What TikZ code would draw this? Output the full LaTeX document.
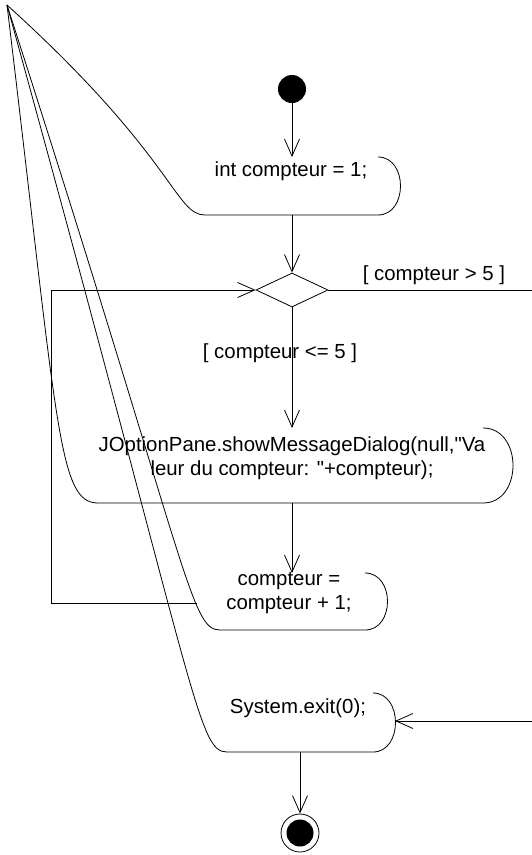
\documentclass[tikz,border=0pt]{standalone}
\usepackage{fontspec}
\newfontfamily\lsans{Liberation Sans}
\usetikzlibrary{arrows.meta,shapes.geometric}
\begin{document}
\begin{tikzpicture}[x=1pt,y=-1pt,
  line/.style={draw=black, line width=0.8pt},
  flow/.style={line, -{Straight Barb[length=17pt,width=15pt,line width=0.8pt]}},
  txt/.style={font=\lsans\fontsize{20.4}{24}\selectfont, align=center, inner sep=0pt}]
\useasboundingbox (0,0) rectangle (532,855);
\coordinate (O) at (7,5);

% initial and final states
\node[circle, fill=black, minimum size=28pt, inner sep=0pt] (start) at (292,89) {};
\node[circle, draw=black, line width=0.8pt, minimum size=38pt, inner sep=0pt] (end) at (300,833) {};
\node[circle, fill=black, minimum size=27pt, inner sep=0pt] (endin) at (end.center) {};

% decision
\node[diamond, draw=black, line width=0.8pt, minimum width=72pt, minimum height=34pt, inner sep=0pt] (dec) at (292,290) {};

% activity shapes
\draw[line] (O) .. controls (175,157) and (175,215) .. (205,215) -- (378,215)
  .. controls (408,215) and (408,157) .. (378,157);
\draw[line] (O) .. controls (58,428) and (58,503) .. (98,503) -- (483,503)
  .. controls (523,503) and (523,428) .. (483,428);
\draw[line] (O) .. controls (190,573) and (190,630) .. (220,630) -- (365,630)
  .. controls (395,630) and (395,573) .. (365,573);
\draw[line] (O) .. controls (197,693) and (197,752) .. (227,752) -- (373,752)
  .. controls (403,752) and (403,693) .. (373,693);

% activity texts
\node[txt] (a1) at (291,171) {int compteur = 1;};
\node[txt] (a2) at (292,458) {JOptionPane.showMessageDialog(null,"Va\\leur du compteur: "+compteur);};
\node[txt] (a3) at (289,593) {compteur =\\compteur + 1;};
\node[txt] (a4) at (298,708) {System.exit(0);};

% guards
\node[txt] (gt) at (434,275) {[ compteur > 5 ]};
\node[txt] (le) at (280,353) {[ compteur <= 5 ]};

% connection points
\coordinate (a1top) at (292,157);
\coordinate (a1bot) at (292,215);
\coordinate (a2top) at (292,428);
\coordinate (a2bot) at (292,503);
\coordinate (a3top) at (292,573);
\coordinate (a3w) at (197,603);
\coordinate (loopc) at (51,290);
\coordinate (rc) at (535,290);
\coordinate (a4e) at (395,721);
\coordinate (a4bot) at (300,752);

% transitions
\draw[flow] (start) -- (a1top);
\draw[flow] (a1bot) -- (dec.north);
\draw[flow] (dec.south) -- (a2top);
\draw[flow] (a2bot) -- (a3top);
\draw[flow] (a3w) -| (loopc) -- (dec.west);
\draw[flow] (dec.east) -- (rc) |- (a4e);
\draw[flow] (a4bot) -- (end);
\end{tikzpicture}
\end{document}
